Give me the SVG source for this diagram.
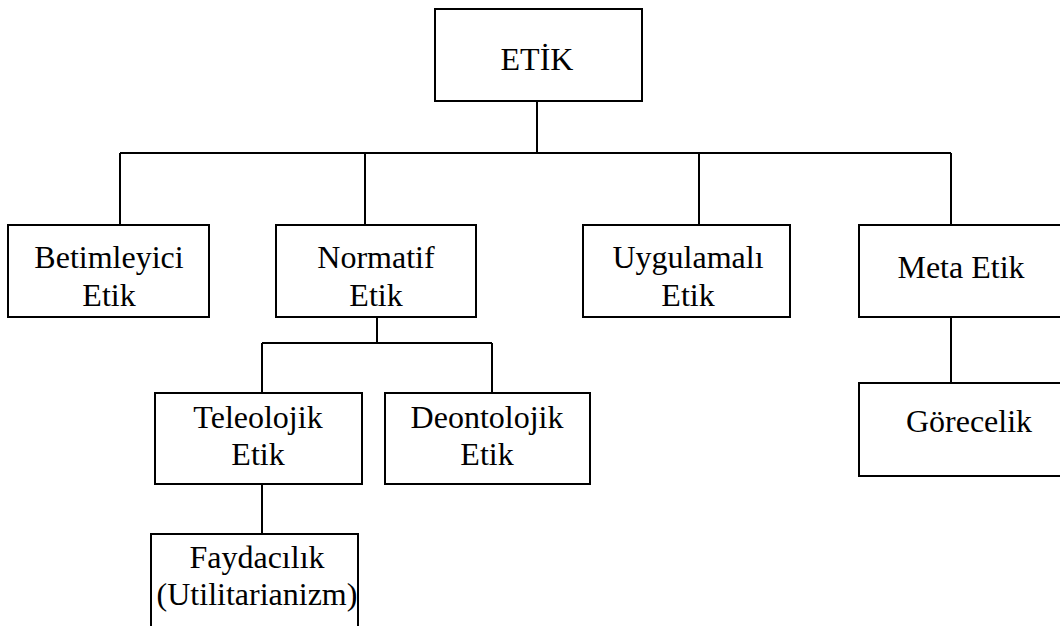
<svg xmlns="http://www.w3.org/2000/svg" width="1060" height="626" viewBox="0 0 1060 626">
<style>
.box{fill:#fff;stroke:#000;stroke-width:2}
.ln{fill:none;stroke:#000;stroke-width:2}
text{font-family:"Liberation Serif","Times New Roman",serif;font-size:32px;fill:#000;text-anchor:middle}
</style>
<rect width="1060" height="626" fill="#fff"/>
<g id="connectors">
<path class="ln" d="M537 101V153M120 153H951M120 153V225M365 153V225M699 153V225M951 153V225"/>
<path class="ln" d="M377 318V343M262 343H492M262 343V393M492 343V393"/>
<path class="ln" d="M262 484V534"/>
<path class="ln" d="M951 316V383"/>
</g>
<g id="etik"><rect class="box" x="435" y="9" width="207" height="92"/><text x="537" y="70">ETİK</text></g>
<g id="betimleyici"><rect class="box" x="8" y="225" width="201" height="92"/><text x="109" y="268">Betimleyici</text><text x="109" y="306">Etik</text></g>
<g id="normatif"><rect class="box" x="276" y="225" width="200" height="92"/><text x="376" y="268">Normatif</text><text x="376" y="306">Etik</text></g>
<g id="uygulamali"><rect class="box" x="583" y="225" width="207" height="92"/><text x="688" y="268">Uygulamalı</text><text x="688" y="306">Etik</text></g>
<g id="meta"><rect class="box" x="859" y="225" width="205" height="92"/><text x="961" y="278">Meta Etik</text></g>
<g id="teleolojik"><rect class="box" x="155" y="393" width="207" height="91"/><text x="258" y="428">Teleolojik</text><text x="258" y="465">Etik</text></g>
<g id="deontolojik"><rect class="box" x="385" y="393" width="205" height="91"/><text x="487" y="428">Deontolojik</text><text x="487" y="465">Etik</text></g>
<g id="gorecelik"><rect class="box" x="859" y="383" width="205" height="93"/><text x="969" y="432">Görecelik</text></g>
<g id="faydacilik"><rect class="box" x="151" y="534" width="207" height="110"/><text x="257" y="568">Faydacılık</text><text x="257" y="605">(Utilitarianizm)</text></g>
</svg>
